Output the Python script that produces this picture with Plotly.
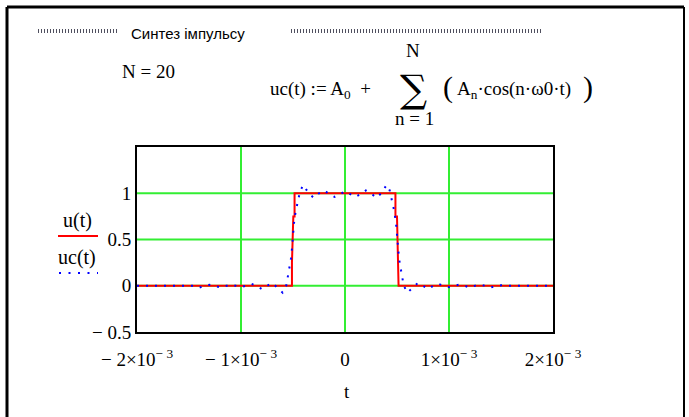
import plotly.graph_objects as go

# ---- data -------------------------------------------------------------
# rectangular pulse u(t), t in seconds
t_u = [-2.0e-3, -0.510e-3, -0.510e-3, -0.497e-3, -0.485e-3, -0.485e-3,
       0.485e-3, 0.485e-3, 0.500e-3, 0.510e-3, 0.515e-3, 0.515e-3, 2.0e-3]
u_vals = [0, 0, 0.25, 0.75, 0.75, 1,
          1, 0.75, 0.75, 0.25, 0.25, 0, 0]

# Fourier synthesis uc(t), N = 20 harmonics
t_uc = [-2.00e-3, -1.60e-3, -1.50e-3, -1.45e-3, -1.40e-3, -1.35e-3, -1.30e-3,
        -1.25e-3, -1.20e-3, -1.15e-3, -1.10e-3, -1.05e-3, -1.00e-3, -0.95e-3,
        -0.90e-3, -0.85e-3, -0.80e-3, -0.75e-3, -0.70e-3, -0.65e-3, -0.60e-3,
        -0.565e-3, -0.55e-3, -0.535e-3, -0.52e-3, -0.51e-3, -0.50e-3, -0.49e-3,
        -0.475e-3, -0.46e-3, -0.43e-3, -0.40e-3, -0.35e-3, -0.30e-3, -0.25e-3,
        -0.20e-3, -0.15e-3, -0.10e-3, -0.05e-3, 0.0,
        0.05e-3, 0.10e-3, 0.15e-3, 0.20e-3, 0.25e-3, 0.30e-3, 0.35e-3,
        0.40e-3, 0.43e-3, 0.46e-3, 0.475e-3, 0.49e-3, 0.50e-3, 0.51e-3,
        0.52e-3, 0.535e-3, 0.55e-3, 0.565e-3, 0.60e-3, 0.65e-3, 0.70e-3,
        0.75e-3, 0.80e-3, 0.85e-3, 0.90e-3, 0.95e-3, 1.00e-3, 1.05e-3,
        1.10e-3, 1.15e-3, 1.20e-3, 1.25e-3, 1.30e-3, 1.35e-3, 1.40e-3,
        1.45e-3, 1.50e-3, 1.60e-3, 2.00e-3]
uc_vals = [0.0, 0.0, 0.005, 0.0, -0.02, 0.0, 0.01,
           0.0, -0.02, 0.0, 0.012, 0.0, -0.015, 0.0,
           0.02, 0.0, -0.035, 0.0, 0.03, -0.02, -0.075,
           0.0, 0.09, 0.19, 0.29, 0.40, 0.55, 0.68,
           0.80, 0.89, 1.03, 1.09, 1.00, 0.95, 1.00,
           1.03, 0.99, 0.96, 0.99, 1.02,
           0.99, 0.96, 0.99, 1.03, 1.00, 0.95, 1.00,
           1.09, 1.03, 0.89, 0.80, 0.68, 0.55, 0.40,
           0.29, 0.19, 0.09, 0.0, -0.075, -0.02, 0.03,
           0.0, -0.035, 0.0, 0.02, 0.0, -0.015, 0.0,
           0.012, 0.0, -0.02, 0.0, 0.01, 0.0, -0.02,
           0.0, 0.005, 0.0, 0.0]

x_tickvals = [-2e-3, -1e-3, 0, 1e-3, 2e-3]
x_ticktext = ["\u2212 2\u00d710<sup>\u2212 3</sup>", "\u2212 1\u00d710<sup>\u2212 3</sup>", "0",
              "1\u00d710<sup>\u2212 3</sup>", "2\u00d710<sup>\u2212 3</sup>"]
y_tickvals = [-0.5, 0, 0.5, 1]
y_ticktext = ["\u2212 0.5", "0", "0.5", "1"]
x_gridvals = [-1e-3, 0, 1e-3]
y_gridvals = [0, 0.5, 1]

# ---- layout geometry (pixels) -------------------------------------------
W, H = 689, 417
L, R, T, B = 137, 553, 147, 332


def px(xp):
    return (xp - L) / (R - L)


def py(yp):
    return (B - yp) / (B - T)


SERIF = "Liberation Serif"
SANS = "Liberation Sans"
GREEN = "#33ee33"
FS = 19

fig = go.Figure()
fig.add_trace(go.Scatter(x=t_u, y=u_vals, mode="lines",
                         line=dict(color="#ff0000", width=2), showlegend=False))
fig.add_trace(go.Scatter(x=t_uc, y=uc_vals, mode="lines",
                         line=dict(color="#0000ff", width=2, dash="2px,7px"),
                         showlegend=False))

shapes = []
for gx in x_gridvals:
    shapes.append(dict(type="line", xref="x", yref="paper", x0=gx, x1=gx, y0=0, y1=1,
                       line=dict(color=GREEN, width=2), layer="below"))
for gy in y_gridvals:
    shapes.append(dict(type="line", xref="paper", yref="y", x0=0, x1=1, y0=gy, y1=gy,
                       line=dict(color=GREEN, width=2), layer="below"))

# outer region frame
shapes.append(dict(type="line", xref="paper", yref="paper",
                   x0=px(7), x1=px(684), y0=py(7), y1=py(7),
                   line=dict(color="black", width=3)))
shapes.append(dict(type="line", xref="paper", yref="paper",
                   x0=px(7), x1=px(7), y0=py(7), y1=py(420),
                   line=dict(color="black", width=3)))
shapes.append(dict(type="line", xref="paper", yref="paper",
                   x0=px(684), x1=px(684), y0=py(7), y1=py(420),
                   line=dict(color="black", width=2)))

# dotted rules around the heading
for x0, x1 in [(38, 117), (291, 543)]:
    shapes.append(dict(type="line", xref="paper", yref="paper",
                       x0=px(x0), x1=px(x1), y0=py(31), y1=py(31),
                       line=dict(color="#50505f", width=4, dash="1px,2px")))

# legend samples
shapes.append(dict(type="line", xref="paper", yref="paper",
                   x0=px(58), x1=px(98), y0=py(236), y1=py(236),
                   line=dict(color="#ff0000", width=2)))
shapes.append(dict(type="line", xref="paper", yref="paper",
                   x0=px(59), x1=px(98), y0=py(273), y1=py(273),
                   line=dict(color="#0000ff", width=2, dash="2px,7.5px")))


def note(text, xp, yp, size=FS, family=SERIF, xanchor="center"):
    return dict(text=text, xref="paper", yref="paper", x=px(xp), y=py(yp),
                xanchor=xanchor, yanchor="middle", showarrow=False,
                font=dict(family=family, size=size, color="black"))


annotations = [
    note("Синтез імпульсу", 129, 33, size=15, family=SANS, xanchor="left"),
    note("N = 20", 120, 72, xanchor="left"),
    note("uc(t) := A<sub>0</sub>\u00a0 +", 268, 90, xanchor="left"),
    note("N", 413, 50),
    note("\u2211", 413, 89, size=38, family="DejaVu Serif"),
    note("n = 1", 414, 118),
    note("(", 448, 87, size=30),
    note("A<sub>n</sub>\u00b7cos(n\u00b7\u03c90\u00b7t)", 455, 90, xanchor="left"),
    note(")", 588, 87, size=30),
    note("u(t)", 77, 220, size=20),
    note("uc(t)", 77, 257, size=20),
    note("t", 347, 391),
]

fig.update_layout(
    width=W, height=H, autosize=False,
    margin=dict(l=L, r=W - R, t=T, b=H - B, pad=0),
    paper_bgcolor="white", plot_bgcolor="white",
    font=dict(family=SERIF, size=FS, color="black"),
    shapes=shapes, annotations=annotations,
    xaxis=dict(range=[-2e-3, 2e-3], tickmode="array", tickvals=x_tickvals,
               ticktext=x_ticktext, showgrid=False, zeroline=False,
               showline=True, mirror=True, linecolor="black", linewidth=2,
               ticks="outside", ticklen=9, tickcolor="rgba(0,0,0,0)",
               tickfont=dict(family=SERIF, size=FS, color="black")),
    yaxis=dict(range=[-0.5, 1.5], tickmode="array", tickvals=y_tickvals,
               ticktext=y_ticktext, showgrid=False, zeroline=False,
               showline=True, mirror=True, linecolor="black", linewidth=2,
               ticks="", tickfont=dict(family=SERIF, size=FS, color="black")),
)

fig.write_html("out.html")
